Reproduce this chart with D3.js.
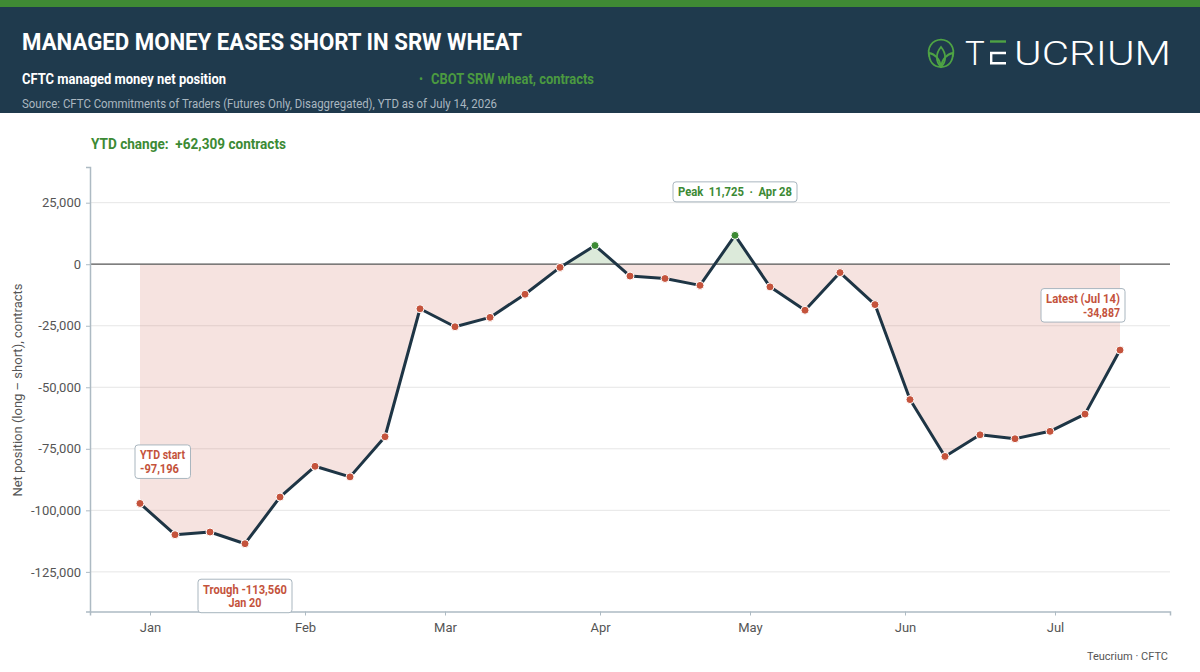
<!DOCTYPE html>
<html lang="en">
<head>
<meta charset="UTF-8">
<title>Managed money eases short in SRW wheat</title>
<style>
    body, html { margin: 0; overflow: hidden; background: #fff; }
    text { font-family: Roboto, "Noto Sans", sans-serif; }
</style>
</head>
<body>
<script src="https://d3js.org/d3.v7.min.js"></script>
<script>
    // Weekly CFTC report dates (Tuesdays) and managed money net position
    const reportDates = [
        "2025-12-30", "2026-01-06", "2026-01-13", "2026-01-20", "2026-01-27",
        "2026-02-03", "2026-02-10", "2026-02-17", "2026-02-24", "2026-03-03",
        "2026-03-10", "2026-03-17", "2026-03-24", "2026-03-31", "2026-04-07",
        "2026-04-14", "2026-04-21", "2026-04-28", "2026-05-05", "2026-05-12",
        "2026-05-19", "2026-05-26", "2026-06-02", "2026-06-09", "2026-06-16",
        "2026-06-23", "2026-06-30", "2026-07-07", "2026-07-14"
    ];
    const netPosition = [
        -97196, -109900, -108800, -113560, -94600,
        -82100, -86400, -70100, -18100, -25400,
        -21600, -12200, -1300, 7600, -4800,
        -5800, -8600, 11725, -9200, -18700,
        -3400, -16400, -55000, -78100, -69300,
        -70900, -67900, -60900, -34887
    ];
    const yTicks = [25000, 0, -25000, -50000, -75000, -100000, -125000];

    const width = 1200, height = 672;
    const parse = d3.timeParse("%Y-%m-%d");
    const data = reportDates.map((d, i) => ({ date: parse(d), value: netPosition[i] }));

    const red = "#c4533c", green = "#3c8a34", navy = "#1f3a4d", grey = "#555";

    // plain hyphen for negatives, like the original
    const locale = d3.formatLocale({ decimal: ".", thousands: ",", grouping: [3], currency: ["$", ""], minus: "-" });
    const fmt = locale.format(",");
    const fmtSigned = locale.format("+,");
    const fmtDay = d3.timeFormat("%b %-d");

    const svg = d3.create("svg")
        .attr("width", width)
        .attr("height", height)
        .attr("viewBox", [0, 0, width, height]);
    // in the DOM early so getBBox works for the note boxes
    document.body.appendChild(svg.node());

    // squeeze bold Roboto to look like the condensed face of the original
    function fit(sel, w) {
        sel.attr("textLength", w).attr("lengthAdjust", "spacingAndGlyphs");
        return sel;
    }

    // ---- header band ----
    svg.append("rect").attr("width", width).attr("height", 113).attr("fill", navy);
    svg.append("rect").attr("width", width).attr("height", 7).attr("fill", "#3f8a34");

    fit(svg.append("text")
        .attr("x", 22).attr("y", 50)
        .attr("fill", "#fff")
        .attr("font-size", 24).attr("font-weight", 700)
        .text("MANAGED MONEY EASES SHORT IN SRW WHEAT"), 500);

    fit(svg.append("text")
        .attr("x", 22).attr("y", 84)
        .attr("fill", "#fff")
        .attr("font-size", 14).attr("font-weight", 700)
        .text("CFTC managed money net position"), 204);

    svg.append("text")
        .attr("x", 419).attr("y", 83)
        .attr("fill", "#4b9a40")
        .attr("font-size", 12)
        .text("•");
    fit(svg.append("text")
        .attr("x", 431).attr("y", 84)
        .attr("fill", "#4b9a40")
        .attr("font-size", 14).attr("font-weight", 700)
        .text("CBOT SRW wheat, contracts"), 163);

    fit(svg.append("text")
        .attr("x", 22).attr("y", 108)
        .attr("fill", "#aab7c0")
        .attr("font-size", 12)
        .text("Source: CFTC Commitments of Traders (Futures Only, Disaggregated), YTD as of July 14, 2026"), 475);

    // ---- logo ----
    const logo = svg.append("g");
    logo.append("path")
        .attr("transform", "translate(941,52)")
        .attr("d", d3.arc().innerRadius(11.5).outerRadius(13.3).startAngle(-0.62 * Math.PI).endAngle(0.62 * Math.PI)())
        .attr("fill", "#4ea344");
    const leaf = logo.append("g")
        .attr("fill", "none").attr("stroke", "#4ea344").attr("stroke-width", 1.8);
    leaf.append("path").attr("d", "M941,67 C935,61 936,53 941,47 C946,53 947,61 941,67 Z");
    leaf.append("path").attr("d", "M941,67 C933,67 929,61 929,53 C935,54 940,59 941,67 Z");
    leaf.append("path").attr("d", "M941,67 C949,67 953,61 953,53 C947,54 942,59 941,67 Z");

    logo.append("text")
        .attr("x", 965).attr("y", 64.5)
        .attr("fill", "#fff")
        .attr("font-family", "Lato, 'Open Sans', sans-serif")
        .attr("font-size", 33).attr("font-weight", 300)
        .text("T");
    logo.append("line").attr("x1", 990).attr("x2", 1006).attr("y1", 41.5).attr("y2", 41.5)
        .attr("stroke", "#4ea344").attr("stroke-width", 2.4);
    logo.append("path")
        .attr("d", "M1006,53 H991.2 V63.3 H1006")
        .attr("fill", "none").attr("stroke", "#fff").attr("stroke-width", 2.4);
    fit(logo.append("text")
        .attr("x", 1014).attr("y", 64.5)
        .attr("fill", "#fff")
        .attr("font-family", "Lato, 'Open Sans', sans-serif")
        .attr("font-size", 33).attr("font-weight", 300)
        .text("UCRIUM"), 157);

    // ---- plot ----
    const x = d3.scaleTime()
        .domain([new Date(2025, 11, 20), new Date(2026, 6, 24)])
        .range([90, 1170]);
    const y = d3.scaleLinear()
        .domain([-141100, 39500])
        .range([611.5, 167]);

    fit(svg.append("text")
        .attr("x", 91).attr("y", 149)
        .attr("fill", green)
        .attr("font-size", 14).attr("font-weight", 700)
        .style("white-space", "pre")
        .text(`YTD change:  ${fmtSigned(netPosition[netPosition.length - 1] - netPosition[0])} contracts`), 195);

    // gridlines
    svg.append("g")
        .selectAll("line")
        .data(yTicks.filter(d => d !== 0))
        .join("line")
        .attr("x1", 91).attr("x2", 1170)
        .attr("y1", d => y(d)).attr("y2", d => y(d))
        .attr("stroke", "#e6e6e6").attr("stroke-width", 1);

    // area between zero and the line, red below and green above
    const area = d3.area()
        .x(d => x(d.date))
        .y0(y(0))
        .y1(d => y(d.value));

    const defs = svg.append("defs");
    defs.append("clipPath").attr("id", "above")
        .append("rect").attr("x", 0).attr("y", 0).attr("width", width).attr("height", y(0));
    defs.append("clipPath").attr("id", "below")
        .append("rect").attr("x", 0).attr("y", y(0)).attr("width", width).attr("height", height);

    svg.append("path")
        .datum(data)
        .attr("d", area)
        .attr("fill", red).attr("fill-opacity", 0.16)
        .attr("clip-path", "url(#below)");
    svg.append("path")
        .datum(data)
        .attr("d", area)
        .attr("fill", green).attr("fill-opacity", 0.18)
        .attr("clip-path", "url(#above)");

    // zero line
    svg.append("line")
        .attr("x1", 91).attr("x2", 1170)
        .attr("y1", y(0)).attr("y2", y(0))
        .attr("stroke", grey).attr("stroke-width", 1.3);

    // axes
    const yAxis = svg.append("g")
        .attr("transform", "translate(90,0)")
        .call(d3.axisLeft(y).tickValues(yTicks).tickFormat(fmt).tickSize(4).tickPadding(5));
    const xAxis = svg.append("g")
        .attr("transform", `translate(0,${y.range()[0]})`)
        .call(d3.axisBottom(x).ticks(d3.timeMonth.every(1)).tickFormat(d3.timeFormat("%b")).tickSize(4).tickPadding(7));

    [yAxis, xAxis].forEach(a => {
        a.select(".domain").attr("stroke", "#adbac3").attr("stroke-width", 1.5);
        a.selectAll(".tick line").attr("stroke", "#adbac3");
        a.selectAll(".tick text")
            .attr("fill", grey)
            .attr("font-size", 13)
            .attr("font-family", "Roboto, sans-serif");
    });

    svg.append("text")
        .attr("transform", "translate(22,390) rotate(-90)")
        .attr("text-anchor", "middle")
        .attr("fill", grey)
        .attr("font-size", 13)
        .text("Net position (long \u2013 short), contracts");

    // the line and its points
    svg.append("path")
        .datum(data)
        .attr("d", d3.line().x(d => x(d.date)).y(d => y(d.value)))
        .attr("fill", "none")
        .attr("stroke", "#1e3545")
        .attr("stroke-width", 3)
        .attr("stroke-linejoin", "round");

    svg.append("g")
        .selectAll("circle")
        .data(data)
        .join("circle")
        .attr("cx", d => x(d.date))
        .attr("cy", d => y(d.value))
        .attr("r", 4)
        .attr("fill", d => d.value >= 0 ? green : red)
        .attr("stroke", "#fff")
        .attr("stroke-width", 1);

    // ---- annotation boxes ----
    const first = data[0];
    const last = data[data.length - 1];
    const trough = data.reduce((a, b) => b.value < a.value ? b : a);
    const peak = data.reduce((a, b) => b.value > a.value ? b : a);

    function note(px, py, anchor, lines, color) {
        const g = svg.append("g");
        const box = g.append("rect");
        const t = g.append("text")
            .attr("text-anchor", anchor)
            .attr("fill", color)
            .attr("font-size", 13).attr("font-weight", 700)
            .style("white-space", "pre");
        lines.forEach((l, i) => {
            const ts = t.append("tspan")
                .attr("x", px)
                .attr("y", py + i * 13.5)
                .text(l[0]);
            fit(ts, l[1]);
        });
        const bb = t.node().getBBox();
        box.attr("x", bb.x - 5).attr("y", bb.y - 2.5)
            .attr("width", bb.width + 10).attr("height", bb.height + 5)
            .attr("rx", 3)
            .attr("fill", "#fff")
            .attr("stroke", "#a9b6bf")
            .attr("stroke-width", 1);
    }

    note(x(first.date), y(first.value) - 44, "start",
        [["YTD start", 45], [fmt(first.value), 39]], red);
    note(x(trough.date), y(trough.value) + 50, "middle",
        [[`Trough ${fmt(trough.value)}`, 84], [fmtDay(trough.date), 33]], red);
    note(x(peak.date), y(peak.value) - 39, "middle",
        [[`Peak  ${fmt(peak.value)}  \u00b7  ${fmtDay(peak.date)}`, 114]], green);
    note(x(last.date), y(last.value) - 47, "end",
        [[`Latest (${fmtDay(last.date)})`, 74], [fmt(last.value), 37]], red);

    // footer
    svg.append("text")
        .attr("x", 1168).attr("y", 660)
        .attr("text-anchor", "end")
        .attr("fill", grey)
        .attr("font-size", 11)
        .text("Teucrium \u00b7 CFTC");
</script>
</body>
</html>
